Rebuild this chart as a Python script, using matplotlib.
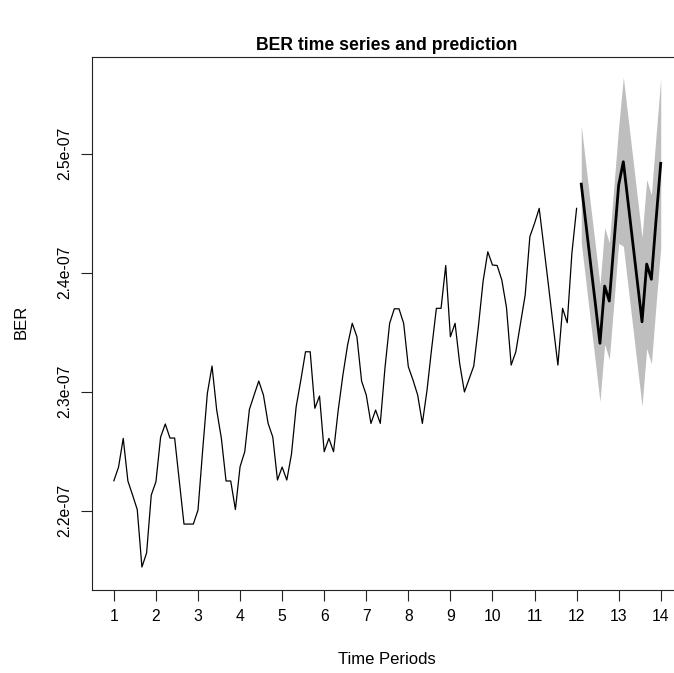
import matplotlib
matplotlib.use("Agg")
import matplotlib.pyplot as plt
import numpy as np

plt.rcParams['font.family'] = ['Liberation Sans', 'DejaVu Sans']

# ---- data (values in units of 1e-7) ----
freq = 9
start_period = 1.0
ber_e7 = [
    2.2252, 2.2367, 2.2608, 2.2250, 2.2132, 2.2010, 2.1527, 2.1645, 2.2132,
    2.2244, 2.2619, 2.2729, 2.2611, 2.2611, 2.2250, 2.1888, 2.1888, 2.1888,
    2.2006, 2.2510, 2.2987, 2.3216, 2.2846, 2.2608, 2.2250, 2.2250, 2.2010,
    2.2370, 2.2496, 2.2852, 2.2972, 2.3090, 2.2972, 2.2734, 2.2619, 2.2258,
    2.2367, 2.2258, 2.2476, 2.2874, 2.3098, 2.3336, 2.3336, 2.2861, 2.2964,
    2.2496, 2.2608, 2.2496, 2.2846, 2.3140, 2.3392, 2.3575, 2.3462, 2.3090,
    2.2972, 2.2734, 2.2846, 2.2734, 2.3199, 2.3575, 2.3697, 2.3697, 2.3575,
    2.3210, 2.3098, 2.2972, 2.2734, 2.3014, 2.3367, 2.3701, 2.3701, 2.4061,
    2.3462, 2.3575, 2.3233, 2.2998, 2.3107, 2.3216, 2.3552, 2.3930, 2.4176,
    2.4065, 2.4061, 2.3939, 2.3708, 2.3224, 2.3336, 2.3575, 2.3813, 2.4303,
    2.4415, 2.4541, 2.4216, 2.3888, 2.3552, 2.3224, 2.3701, 2.3580, 2.4166,
    2.4541,
]
pred_e7 = [
    2.4745, 2.4409, 2.4073, 2.3745, 2.3407, 2.3888, 2.3762, 2.4250, 2.4737,
    2.4933, 2.4597, 2.4261, 2.3924, 2.3588, 2.4073, 2.3945, 2.4443, 2.4919,
]
upper_e7 = [
    2.5235, 2.4899, 2.4563, 2.4235, 2.3897, 2.4378, 2.4252, 2.4740, 2.5227,
    2.5643, 2.5307, 2.4971, 2.4634, 2.4298, 2.4783, 2.4655, 2.5153, 2.5629,
]
lower_e7 = [
    2.4255, 2.3919, 2.3583, 2.3255, 2.2917, 2.3398, 2.3272, 2.3760, 2.4247,
    2.4223, 2.3887, 2.3551, 2.3214, 2.2878, 2.3363, 2.3235, 2.3733, 2.4209,
]
x_ticks = list(range(1, 15))
y_ticks_e7 = [2.2, 2.3, 2.4, 2.5]
y_tick_labels = ["2.2e-07", "2.3e-07", "2.4e-07", "2.5e-07"]

title = "BER time series and prediction"
xlabel = "Time Periods"
ylabel = "BER"

# ---- derived ----
scale = 1e-7
ber = np.array(ber_e7) * scale
pred = np.array(pred_e7) * scale
upper = np.array(upper_e7) * scale
lower = np.array(lower_e7) * scale
t_obs = start_period + np.arange(len(ber)) / freq
t_pred = t_obs[-1] + np.arange(1, len(pred) + 1) / freq

W, H = 674, 673
fig = plt.figure(figsize=(W / 100, H / 100), dpi=100)
left, right, top, bottom = 92, 682.6, 57, 590
ax = fig.add_axes([left / W, 1 - bottom / H, (right - left) / W, (bottom - top) / H])

ax.fill_between(t_pred, lower, upper, color="#BEBEBE", linewidth=0)
ax.plot(t_obs, ber, color="black", lw=0.9)
ax.plot(t_pred, pred, color="black", lw=2.0)

ax.set_xlim(0.48, 14.52)
ax.set_ylim(2.1334e-7, 2.5813e-7)

ax.set_xticks(x_ticks)
ax.set_xticklabels([str(v) for v in x_ticks])
ax.set_yticks(np.array(y_ticks_e7) * scale)
ax.set_yticklabels(y_tick_labels, rotation=90, va="center")

for s in ax.spines.values():
    s.set_linewidth(0.8)
    s.set_color("#222222")
ax.tick_params(direction="out", length=8, width=0.8, labelsize=11.3, colors="#222222",
               labelcolor="black")
ax.tick_params(axis="x", pad=6)
ax.tick_params(axis="y", pad=6)

fig.text(387 / W, 1 - 45 / H, title, ha="center", va="center",
         fontsize=12.7, fontweight="bold")
fig.text(387 / W, 1 - 660 / H, xlabel, ha="center", va="center", fontsize=12)
fig.text(21 / W, 1 - 322 / H, ylabel, ha="center", va="center", rotation=90, fontsize=12)

fig.savefig("out.png", dpi=100)
